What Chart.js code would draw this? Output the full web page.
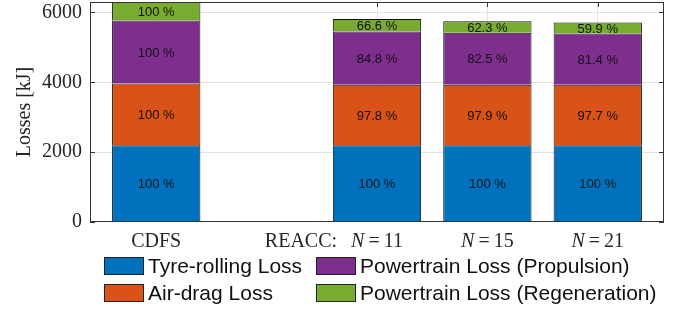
<!DOCTYPE html>
<html><head><meta charset="utf-8">
<script src="https://cdn.jsdelivr.net/npm/chart.js@4/dist/chart.umd.min.js"></script>
<style>html,body{margin:0;padding:0;background:#fff}#wrap{width:680px;height:311px}</style>
</head><body><div id="wrap"><canvas id="c" width="680" height="311"></canvas></div>
<script>
// ---- data ----
const categories = ['CDFS', '', 'N=11', 'N=15', 'N=21'];
const groupLabel = 'REACC:';
const tyreRolling    = [2195, null, 2195, 2195, 2195];
const airDrag        = [1773, null, 1734, 1736, 1732];
const ptPropulsion   = [1803, null, 1529, 1487, 1468];
const ptRegeneration = [529,  null, 352,  330,  317];
const pctTyre  = ['100 %', '', '100 %', '100 %', '100 %'];
const pctAir   = ['100 %', '', '97.8 %', '97.9 %', '97.7 %'];
const pctProp  = ['100 %', '', '84.8 %', '82.5 %', '81.4 %'];
const pctRegen = ['100 %', '', '66.6 %', '62.3 %', '59.9 %'];
const yTicks = [0, 2000, 4000, 6000];
const seriesNames = ['Tyre-rolling Loss', 'Air-drag Loss', 'Powertrain Loss (Propulsion)', 'Powertrain Loss (Regeneration)'];
const seriesColors = ['#0072BD', '#D95319', '#7E2F8E', '#77AC30'];

const seriesValues = [tyreRolling, airDrag, ptPropulsion, ptRegeneration];
const seriesPct = [pctTyre, pctAir, pctProp, pctRegen];

const SERIF = '"Liberation Serif", "Times New Roman", serif';
const SANS = '"Liberation Sans", Arial, sans-serif';
const AXIS = '#333333';
const GRID = '#e2e2e2';

const datasets = seriesValues.map((vals, k) => ({
  label: seriesNames[k],
  data: vals.map((v, i) => ({ x: i, y: v })),
  backgroundColor: seriesColors[k],
  borderColor: '#111111',
  borderWidth: { top: 1, left: 1, right: 1, bottom: 0 },
  borderSkipped: false,
  barPercentage: 0.8,
  categoryPercentage: 1.0
}));

const decorPlugin = {
  id: 'decor',
  beforeDatasetsDraw(chart) {
    const { ctx, chartArea: a, scales } = chart;
    ctx.save();
    ctx.strokeStyle = AXIS;
    ctx.lineWidth = 1;
    ctx.beginPath();
    scales.y.ticks.forEach(t => {
      const y = Math.round(scales.y.getPixelForValue(t.value)) + 0.5;
      ctx.moveTo(a.left, y); ctx.lineTo(a.left + 5, y);
      ctx.moveTo(a.right - 5, y); ctx.lineTo(a.right, y);
    });
    scales.x.ticks.forEach(t => {
      const x = Math.round(scales.x.getPixelForValue(t.value)) + 0.5;
      ctx.moveTo(x, a.top); ctx.lineTo(x, a.top + 5);
      ctx.moveTo(x, a.bottom - 5); ctx.lineTo(x, a.bottom);
    });
    ctx.stroke();
    ctx.restore();
  },
  afterDatasetsDraw(chart) {
    const { ctx, chartArea: a } = chart;
    ctx.save();
    // percent labels
    ctx.font = '13px ' + SANS;
    ctx.fillStyle = '#111';
    ctx.textAlign = 'center';
    ctx.textBaseline = 'middle';
    chart.data.datasets.forEach((ds, k) => {
      const meta = chart.getDatasetMeta(k);
      meta.data.forEach((el, i) => {
        const txt = seriesPct[k][i];
        if (!txt || seriesValues[k][i] == null) return;
        const p = el.getProps(['x', 'y', 'base'], true);
        ctx.fillText(txt, p.x, (p.y + p.base) / 2 + 1);
      });
    });
    // axes box
    ctx.strokeStyle = AXIS;
    ctx.lineWidth = 1;
    ctx.strokeRect(Math.round(a.left) + 0.5, Math.round(a.top) + 0.5,
      Math.round(a.right - a.left) - 1, Math.round(a.bottom - a.top) - 1);
    ctx.restore();
  },
  afterDraw(chart) {
    const { ctx, scales } = chart;
    ctx.save();
    ctx.fillStyle = '#262626';
    ctx.textBaseline = 'alphabetic';
    const baseY = 247;
    const reg = '20px ' + SERIF, ital = 'italic 20px ' + SERIF;
    categories.forEach((lab, i) => {
      if (!lab) return;
      const cx = scales.x.getPixelForValue(i);
      const parts = lab.split('=');
      if (parts.length === 2) {
        ctx.font = ital; const w1 = ctx.measureText(parts[0]).width;
        ctx.font = reg; const w2 = ctx.measureText('=').width; const w3 = ctx.measureText(parts[1]).width;
        const gap = 4;
        const total = w1 + gap + w2 + gap + w3;
        let x = cx - total / 2;
        ctx.textAlign = 'left';
        ctx.font = ital; ctx.fillText(parts[0], x, baseY); x += w1 + gap;
        ctx.font = reg; ctx.fillText('=', x, baseY); x += w2 + gap;
        ctx.fillText(parts[1], x, baseY);
        if (i === categories.findIndex(c => c.indexOf('=') >= 0)) {
          ctx.textAlign = 'right';
          ctx.fillText(groupLabel, cx - total / 2 - 14, baseY);
        }
      } else {
        ctx.font = reg; ctx.textAlign = 'center';
        ctx.fillText(lab, cx, baseY);
      }
    });
    // legend (2x2, column-major)
    const colX = [104, 316], rowY = [257, 284];
    ctx.font = '21px ' + SANS;
    ctx.textAlign = 'left';
    seriesNames.forEach((name, k) => {
      const col = Math.floor(k / 2), row = k % 2;
      const bx = colX[col], by = rowY[row];
      ctx.fillStyle = seriesColors[k];
      ctx.fillRect(bx, by, 40, 18);
      ctx.strokeStyle = '#222';
      ctx.lineWidth = 1;
      ctx.strokeRect(bx + 0.5, by + 0.5, 39, 17);
      ctx.fillStyle = '#111';
      ctx.fillText(name, bx + 44, by + 16);
    });
    ctx.restore();
  }
};

new Chart(document.getElementById('c'), {
  type: 'bar',
  data: { datasets },
  options: {
    responsive: false,
    devicePixelRatio: 1,
    animation: false,
    layout: { padding: { left: 0, right: 16, top: 2, bottom: 0 } },
    plugins: { legend: { display: false }, tooltip: { enabled: false } },
    scales: {
      x: {
        type: 'linear',
        min: -0.6, max: 4.6,
        stacked: true,
        offset: false,
        afterBuildTicks: s => { s.ticks = categories.map((c, i) => ({ value: i })).filter(t => categories[t.value] !== ''); },
        afterFit: s => { s.height = 89; s.paddingLeft = 0; s.paddingRight = 0; },
        ticks: { display: false },
        grid: { color: GRID, drawTicks: false, offset: false },
        border: { display: false }
      },
      y: {
        type: 'linear',
        min: 0, max: 6300,
        stacked: true,
        afterBuildTicks: s => { s.ticks = yTicks.map(v => ({ value: v })); },
        afterFit: s => { s.width = 90; s.paddingTop = 0; s.paddingBottom = 0; },
        ticks: { font: { family: SERIF, size: 20 }, color: '#262626', padding: 8, callback: v => String(v) },
        grid: { color: c => (c.tick && c.tick.value === 0) ? 'rgba(0,0,0,0)' : GRID, drawTicks: false },
        border: { display: false },
        title: { display: true, text: 'Losses [kJ]', font: { family: SERIF, size: 20 }, color: '#262626', padding: { top: 13, bottom: 4 } }
      }
    }
  },
  plugins: [decorPlugin]
});
</script>
</body></html>
